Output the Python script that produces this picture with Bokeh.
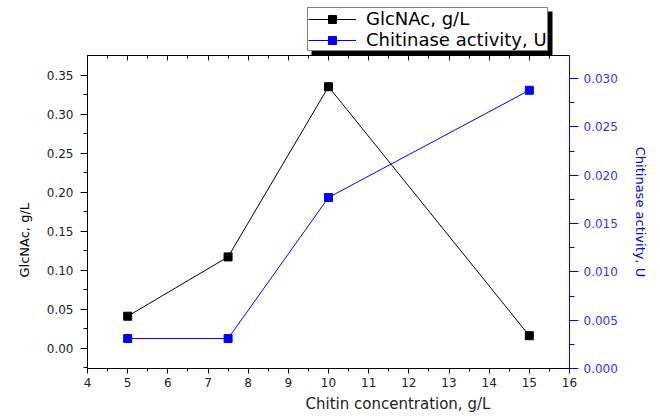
from bokeh.plotting import figure
from bokeh.layouts import column
from bokeh.models import (LinearAxis, Range1d, Legend, LegendItem, Title,
                          SingleIntervalTicker, NumeralTickFormatter, BoxAnnotation)
from bokeh.embed import file_html
from bokeh.resources import INLINE

# ---- data ----
chitin_conc = [5, 7.5, 10, 15]
glcnac = [0.041, 0.117, 0.335, 0.016]
chitinase = [0.0031, 0.0031, 0.0177, 0.0288]
series_names = ["GlcNAc, g/L", "Chitinase activity, U"]

FONT = "DejaVu Sans"
BLUE = "#0000ff"
DARK = "#222222"

# ---------------- main chart ----------------
p = figure(width=660, height=364, output_backend="svg", toolbar_location=None,
           x_range=Range1d(4, 16), y_range=Range1d(-0.026, 0.375),
           min_border_left=87, min_border_right=91, min_border_top=0,
           min_border_bottom=51)
p.outline_line_color = None
p.xgrid.visible = False
p.ygrid.visible = False

xa = p.xaxis[0]
xa.ticker = SingleIntervalTicker(interval=1, num_minor_ticks=2)
xa.major_tick_out = 5
xa.major_tick_in = 0
xa.minor_tick_out = 3
xa.minor_tick_in = 0
xa.major_label_standoff = 4
xa.major_label_text_font = FONT
xa.major_label_text_font_size = "12px"
xa.major_label_text_color = DARK
xa.axis_line_color = "black"

ya = p.yaxis[0]
ya.ticker = SingleIntervalTicker(interval=0.05, num_minor_ticks=2)
ya.formatter = NumeralTickFormatter(format="0.00")
ya.major_tick_out = 7
ya.major_tick_in = 0
ya.minor_tick_out = 4
ya.minor_tick_in = 0
ya.major_label_standoff = 7
ya.major_label_text_font = FONT
ya.major_label_text_font_size = "12px"
ya.major_label_text_color = DARK
ya.axis_line_color = "black"

top = LinearAxis(ticker=SingleIntervalTicker(interval=1, num_minor_ticks=2),
                 major_label_text_font_size="0px", major_label_text_color=None,
                 major_label_standoff=0,
                 major_tick_in=5, major_tick_out=0, minor_tick_in=3, minor_tick_out=0,
                 axis_line_color="black")
p.add_layout(top, "above")

p.extra_y_ranges = {"act": Range1d(0, 0.0324)}
ra = LinearAxis(y_range_name="act",
                ticker=SingleIntervalTicker(interval=0.005, num_minor_ticks=2),
                formatter=NumeralTickFormatter(format="0.000"),
                major_tick_out=9, major_tick_in=0, minor_tick_out=5, minor_tick_in=0,
                major_label_standoff=5,
                major_label_text_font=FONT, major_label_text_font_size="12px",
                major_label_text_color="#3333ff",
                axis_line_color=BLUE, major_tick_line_color=BLUE, minor_tick_line_color=BLUE,
                axis_label="Chitinase activity, U", axis_label_text_font=FONT,
                axis_label_text_font_size="13px", axis_label_text_font_style="normal",
                axis_label_text_color=BLUE, axis_label_standoff=12)
p.add_layout(ra, "right")

xt = Title(text="Chitin concentration, g/L", align="left", offset=218,
           vertical_align="top",
           text_font=FONT, text_font_size="15px", text_font_style="normal",
           text_color=DARK, standoff=10)
p.add_layout(xt, "below")
yt = Title(text="GlcNAc, g/L", align="left", offset=91,
           text_font=FONT, text_font_size="13px", text_font_style="normal",
           text_color="black", standoff=24)
p.add_layout(yt, "left")

p.line(chitin_conc, glcnac, line_color="black", line_width=1)
p.scatter(chitin_conc, glcnac, marker="square", size=8,
          fill_color="black", line_color="black")
p.line(chitin_conc, chitinase, line_color=BLUE, line_width=1, y_range_name="act")
p.scatter(chitin_conc, chitinase, marker="square", size=8,
          fill_color=BLUE, line_color=BLUE, y_range_name="act")

# ---------------- legend strip above the chart ----------------
# its frame is aligned with the chart's frame; ranges are in page pixels
lg = figure(width=660, height=55, output_backend="svg", toolbar_location=None,
            x_range=Range1d(87, 569), y_range=Range1d(0, 55),
            x_axis_location=None, y_axis_location=None,
            min_border_left=87, min_border_right=91, min_border_top=0, min_border_bottom=0)
lg.outline_line_color = None
lg.xgrid.visible = False
lg.ygrid.visible = False

# same series (they fall outside this strip's ranges, so only their legend glyphs show)
k1 = lg.line(chitin_conc, glcnac, line_color="black", line_width=1)
m1 = lg.scatter(chitin_conc, glcnac, marker="square", fill_color="black", line_color="black")
k2 = lg.line(chitin_conc, chitinase, line_color=BLUE, line_width=1)
m2 = lg.scatter(chitin_conc, chitinase, marker="square", fill_color=BLUE, line_color=BLUE)

shadow = BoxAnnotation(left=311, right=552, bottom=0, top=44,
                       fill_color="black", fill_alpha=1, line_color=None)
lg.add_layout(shadow)

legend = Legend(items=[LegendItem(label=series_names[0], renderers=[k1, m1]),
                       LegendItem(label=series_names[1], renderers=[k2, m2])],
                location=(220, 4), orientation="vertical",
                glyph_width=48, glyph_height=20, label_height=20,
                label_standoff=10, padding=0, spacing=0, margin=0,
                border_line_color="black", border_line_width=1,
                background_fill_color="white", background_fill_alpha=1,
                label_text_font=FONT, label_text_font_size="18px",
                label_text_color="black")
lg.add_layout(legend)

sel = BoxAnnotation(left=309, right=357, bottom=25, top=46, level="overlay",
                    fill_alpha=0, line_color="red", line_width=1)
lg.add_layout(sel)

layout = column(lg, p, spacing=0)
open("out.html", "w").write(file_html(layout, INLINE))
